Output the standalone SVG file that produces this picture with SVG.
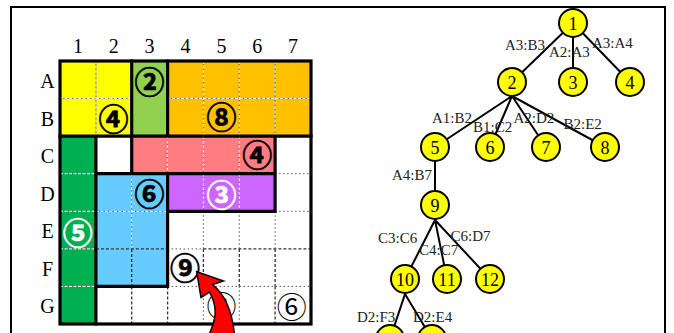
<svg xmlns="http://www.w3.org/2000/svg" width="674" height="333" viewBox="0 0 674 333">
<style>
.lbl{font-family:"Liberation Serif","Times New Roman",serif;font-size:20px;fill:#000;text-anchor:middle}
.el{font-family:"Liberation Serif","Times New Roman",serif;font-size:15px;fill:#222}
.nt{font-family:"Liberation Serif","Times New Roman",serif;font-size:18px;fill:#000;text-anchor:middle}
.nc{fill:#ffff00;stroke:#000;stroke-width:2}
.edge{stroke:#000;stroke-width:2;fill:none}
.thick{stroke:#000;stroke-width:3.2;fill:none;stroke-linecap:square}
.wg{stroke:#666;stroke-width:1;fill:none}
.wd{stroke:#fff;stroke-width:1;stroke-dasharray:3 1.5;fill:none}
.dot{stroke:#555;stroke-width:1;stroke-dasharray:1.5 2.5;fill:none}
.dash{stroke:#333;stroke-width:1.3;stroke-dasharray:3 2;fill:none}
.cb{font-family:"Noto Sans CJK JP","DejaVu Sans",sans-serif;font-size:30px;font-weight:bold;text-anchor:middle;fill:#000;stroke:#000;stroke-width:0.7}
.cw{font-family:"Noto Sans CJK JP","DejaVu Sans",sans-serif;font-size:30px;font-weight:bold;text-anchor:middle;fill:#fff;stroke:#fff;stroke-width:0.7}
.ct{font-family:"Noto Sans CJK JP","DejaVu Sans",sans-serif;font-size:30px;font-weight:normal;text-anchor:middle;fill:#000}
</style>
<rect x="0" y="0" width="674" height="333" fill="#fff"/>
<rect x="11" y="7" width="654" height="340" fill="none" stroke="#000" stroke-width="2"/>

<!-- grid labels -->
<g id="col-labels">
<text class="lbl" x="78" y="53">1</text>
<text class="lbl" x="113.8" y="53">2</text>
<text class="lbl" x="149.6" y="53">3</text>
<text class="lbl" x="185.5" y="53">4</text>
<text class="lbl" x="221.4" y="53">5</text>
<text class="lbl" x="257.2" y="53">6</text>
<text class="lbl" x="293.1" y="53">7</text>
</g>
<g id="row-labels">
<text class="lbl" x="47.5" y="88">A</text>
<text class="lbl" x="47.5" y="125.5">B</text>
<text class="lbl" x="47.5" y="163">C</text>
<text class="lbl" x="47.5" y="200.5">D</text>
<text class="lbl" x="47.5" y="238">E</text>
<text class="lbl" x="47.5" y="275.5">F</text>
<text class="lbl" x="47.5" y="313">G</text>
</g>

<!-- coloured regions -->
<g id="regions">
<rect x="60" y="61" width="71.7" height="75.1" fill="#ffff00"/>
<rect x="131.7" y="61" width="35.9" height="75.1" fill="#92d050"/>
<rect x="167.6" y="61" width="143.4" height="75.1" fill="#ffc000"/>
<rect x="60" y="136.1" width="35.9" height="187.9" fill="#00b050"/>
<rect x="131.7" y="136.1" width="143.4" height="37.6" fill="#ff7c80"/>
<rect x="95.9" y="173.7" width="71.7" height="112.7" fill="#66ccff"/>
<rect x="167.6" y="173.7" width="107.5" height="37.6" fill="#cc66ff"/>
</g>

<!-- internal cell lines -->
<g id="inner-lines">
<path class="wg" d="M95.9 61V136.1M60 98.6H131.7M167.6 98.6H311M203.4 61V136.1M239.3 61V136.1M275.1 61V136.1M60 173.7H95.9M60 211.3H95.9M60 248.9H95.9M60 286.4H95.9M167.6 136.1V173.7M203.4 136.1V173.7M239.3 136.1V173.7M131.7 173.7V248.9M95.9 211.3H167.6M203.4 173.7V211.3M239.3 173.7V211.3"/>
<path class="wd" d="M95.9 61V136.1M60 98.6H131.7M167.6 98.6H311M203.4 61V136.1M239.3 61V136.1M275.1 61V136.1M60 173.7H95.9M60 211.3H95.9M60 248.9H95.9M60 286.4H95.9M167.6 136.1V173.7M203.4 136.1V173.7M239.3 136.1V173.7M131.7 173.7V248.9M95.9 211.3H167.6M203.4 173.7V211.3M239.3 173.7V211.3"/>
<path class="dash" d="M95.9 248.9H167.6M131.7 248.9V286.4M203.4 248.9H311M203.4 248.9V286.4M239.3 248.9V286.4M275.1 248.9V286.4M131.7 286.4V324M167.6 286.4V324M275.1 286.4V324"/>
<path class="dot" d="M275.1 173.7H311M275.1 211.3H311M203.4 211.3V248.9M239.3 211.3V248.9M275.1 211.3V248.9M167.6 248.9H203.4M167.6 286.4H311M203.4 286.4V324M239.3 286.4V324"/>
</g>

<!-- thick region borders -->
<g id="borders">
<rect class="thick" x="60" y="61" width="251" height="263"/>
<path class="thick" d="M131.7 61V136.1M167.6 61V136.1M60 136.1H311M95.9 136.1V324M131.7 136.1V173.7M275.1 136.1V211.3M95.9 173.7H275.1M167.6 173.7V286.4M167.6 211.3H275.1M95.9 286.4H167.6"/>
</g>

<!-- circled numbers -->
<g id="clues">
<text class="cb" x="149.5" y="93">②</text>
<text class="cb" x="113.5" y="130">④</text>
<text class="cb" x="221.6" y="128">⑧</text>
<text class="cb" x="257.2" y="166">④</text>
<text class="cb" x="149.5" y="205.3">⑥</text>
<text class="cw" x="221.6" y="205.5">③</text>
<text class="cw" x="77.7" y="244">⑤</text>
<circle cx="185" cy="267.5" r="11.5" fill="#fff"/>
<text class="cb" x="185" y="279">⑨</text>
<text class="ct" x="221.4" y="317">②</text>
<text class="ct" x="291.7" y="318">⑥</text>
</g>

<!-- red arrow -->
<g id="arrow">
<path d="M196.7 271.7 L223.5 281 L212.5 284.5 C223 293 232 308 234.5 335 L209 335 C215 321 219 309 209.5 292 L201 297.5 Z" fill="#ff0000" stroke="#000" stroke-width="1.5" stroke-linejoin="miter"/>
</g>

<!-- tree connectors -->
<g id="connectors">
<path class="edge" d="M573 23L512 82M573 23V82M573 23L630 82"/>
<path class="edge" d="M512 96L435 147M512 96L490 147M512 96L546 147M512 96L605 147"/>
<path class="edge" d="M435 147V205"/>
<path class="edge" d="M435 220L405 279M435 220L447 279M435 220L490 279"/>
<path class="edge" d="M405 294L390 339M405 294L432 339"/>
</g>

<!-- edge labels -->
<g id="edge-labels">
<text class="el" x="505" y="50">A3:B3</text>
<text class="el" x="549" y="57">A2:A3</text>
<text class="el" x="592" y="48">A3:A4</text>
<text class="el" x="432" y="123">A1:B2</text>
<text class="el" x="473" y="131.5">B1:C2</text>
<text class="el" x="513.5" y="123">A2:D2</text>
<text class="el" x="563.5" y="129">B2:E2</text>
<text class="el" x="392" y="180">A4:B7</text>
<text class="el" x="378" y="243">C3:C6</text>
<text class="el" x="419" y="255">C4:C7</text>
<text class="el" x="450.5" y="240.5">C6:D7</text>
<text class="el" x="357" y="322">D2:F3</text>
<text class="el" x="413" y="322">D2:E4</text>
</g>

<!-- tree nodes -->
<g id="n1"><circle class="nc" cx="573" cy="23" r="14"/><text class="nt" x="573" y="29.5">1</text></g>
<g id="n2"><circle class="nc" cx="512" cy="82" r="14"/><text class="nt" x="512" y="88.5">2</text></g>
<g id="n3"><circle class="nc" cx="573" cy="82" r="14"/><text class="nt" x="573" y="88.5">3</text></g>
<g id="n4"><circle class="nc" cx="630" cy="82" r="14"/><text class="nt" x="630" y="88.5">4</text></g>
<g id="n5"><circle class="nc" cx="435" cy="147" r="14"/><text class="nt" x="435" y="153.5">5</text></g>
<g id="n6"><circle class="nc" cx="490" cy="147" r="14"/><text class="nt" x="490" y="153.5">6</text></g>
<g id="n7"><circle class="nc" cx="546" cy="147" r="14"/><text class="nt" x="546" y="153.5">7</text></g>
<g id="n8"><circle class="nc" cx="605" cy="147" r="14"/><text class="nt" x="605" y="153.5">8</text></g>
<g id="n9"><circle class="nc" cx="435" cy="205" r="14"/><text class="nt" x="435" y="211.5">9</text></g>
<g id="n10"><circle class="nc" cx="405" cy="279" r="14"/><text class="nt" x="405" y="285.5">10</text></g>
<g id="n11"><circle class="nc" cx="447" cy="279" r="14"/><text class="nt" x="447" y="285.5">11</text></g>
<g id="n12"><circle class="nc" cx="490" cy="279" r="14"/><text class="nt" x="490" y="285.5">12</text></g>
<g id="n13"><circle class="nc" cx="390" cy="339" r="14"/></g>
<g id="n14"><circle class="nc" cx="432" cy="339" r="14"/></g>
</svg>
